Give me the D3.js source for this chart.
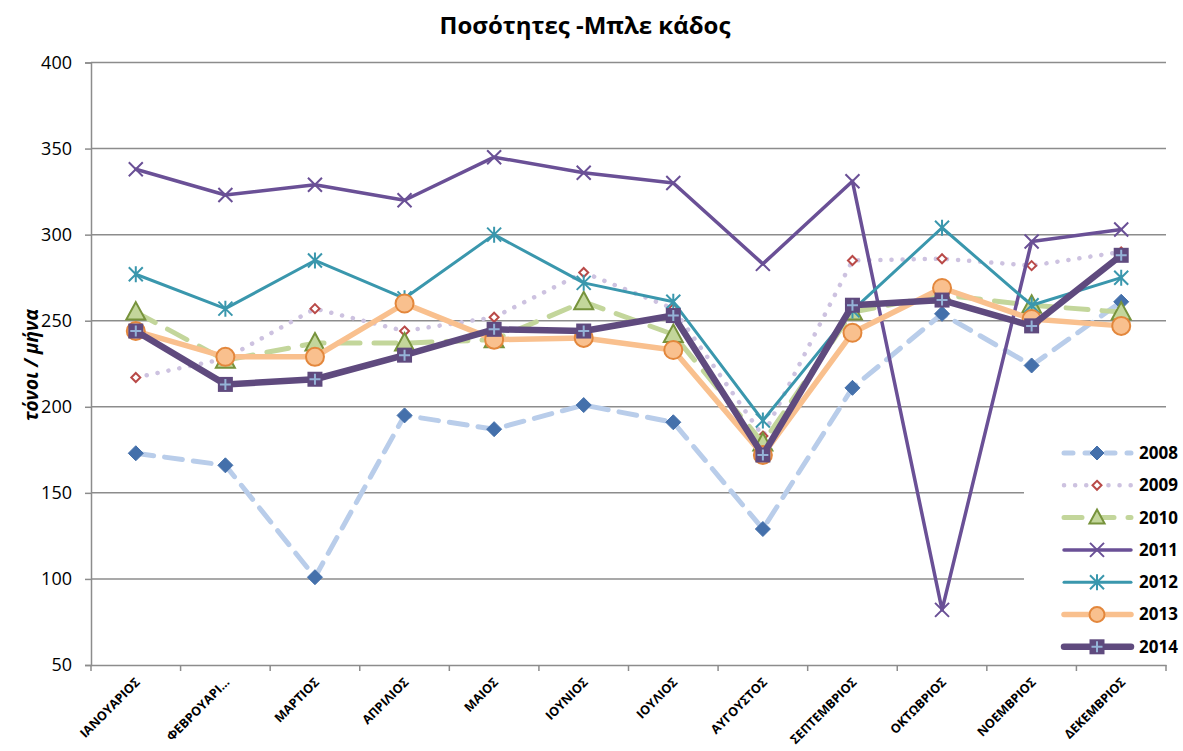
<!DOCTYPE html>
<html>
<head>
<meta charset="utf-8">
<script src="https://cdn.jsdelivr.net/npm/d3@7"></script>
<style>
  body { margin: 0; background: #fff; }
  svg { font-family: "Open Sans", "Liberation Sans", sans-serif; }
</style>
</head>
<body>
<div id="chart"></div>
<script>
// Data
var months = ['ΙΑΝΟΥΑΡΙΟΣ', 'ΦΕΒΡΟΥΑΡΙ...', 'ΜΑΡΤΙΟΣ', 'ΑΠΡΙΛΙΟΣ', 'ΜΑΙΟΣ', 'ΙΟΥΝΙΟΣ',
  'ΙΟΥΛΙΟΣ', 'ΑΥΓΟΥΣΤΟΣ', 'ΣΕΠΤΕΜΒΡΙΟΣ', 'ΟΚΤΩΒΡΙΟΣ', 'ΝΟΕΜΒΡΙΟΣ', 'ΔΕΚΕΜΒΡΙΟΣ'];
var years = ['2008', '2009', '2010', '2011', '2012', '2013', '2014'];
var v2008 = [173, 166, 101, 195, 187, 201, 191, 129, 211, 254, 224, 261];
var v2009 = [217, 228, 257, 244, 252, 278, 257, 183, 285, 286, 282, 290];
var v2010 = [255, 227, 237, 237, 239, 261, 242, 179, 255, 265, 259, 255];
var v2011 = [338, 323, 329, 320, 345, 336, 330, 283, 331, 82, 296, 303];
var v2012 = [277, 257, 285, 263, 300, 272, 261, 192, 256, 304, 259, 275];
var v2013 = [244, 229, 229, 260, 239, 240, 233, 172, 243, 269, 251, 247];
var v2014 = [244, 213, 216, 230, 245, 244, 253, 172, 259, 262, 247, 288];
var yTicks = [50, 100, 150, 200, 250, 300, 350, 400];

var seriesValues = [v2008, v2009, v2010, v2011, v2012, v2013, v2014];

// Styles per series
var styles = [
  { line: '#b9cdea', width: 5, dash: '18,11', marker: 'diamond', fill: '#4470ab', stroke: '#4470ab', size: 7.5 },
  { line: '#cdc2e0', width: 4.5, dash: '0.1,11', marker: 'diamond', fill: '#fff', stroke: '#b94a48', size: 4.5 },
  { line: '#c3d69b', width: 5, dash: '22,14', marker: 'triangle', fill: '#c3d69b', stroke: '#77933c', size: 10 },
  { line: '#6a5096', width: 3.5, dash: null, marker: 'x', fill: 'none', stroke: '#6a5096', size: 7 },
  { line: '#3a97ad', width: 3, dash: null, marker: 'star', fill: 'none', stroke: '#3a97ad', size: 7 },
  { line: '#f9c08e', width: 5.5, dash: null, marker: 'circle', fill: '#f9c08e', stroke: '#e3873c', size: 9 },
  { line: '#5f4a7e', width: 6.5, dash: null, marker: 'square', fill: '#5f4a7e', stroke: '#5f4a7e', size: 7.5 }
];

var width = 1183;
var height = 751;

var svg = d3.select('#chart')
  .append('svg')
  .attr('width', width)
  .attr('height', height);

// Scales
var xScale = d3.scaleBand()
  .domain(months)
  .range([91, 1166]);

var yScale = d3.scaleLinear()
  .domain([50, 400])
  .range([665, 62.5]);

var cx = (m) => xScale(m) + xScale.bandwidth() / 2;

// Title
svg.append('text')
  .attr('x', 585)
  .attr('y', 34)
  .attr('text-anchor', 'middle')
  .style('font-size', '24px')
  .style('font-weight', 'bold')
  .text('Ποσότητες -Μπλε κάδος');

// Y axis label
svg.append('text')
  .attr('transform', 'translate(38, 365) rotate(-90)')
  .attr('text-anchor', 'middle')
  .style('font-size', '19px')
  .style('font-weight', 'bold')
  .style('font-style', 'italic')
  .text('τόνοι / μήνα');

// Gridlines
svg.append('g')
  .selectAll('line')
  .data(yTicks.slice(1))
  .enter().append('line')
  .attr('x1', 91)
  .attr('x2', 1166)
  .attr('y1', (d) => yScale(d))
  .attr('y2', (d) => yScale(d))
  .attr('stroke', '#8c8c8c')
  .attr('stroke-width', 1.5);

// Y axis
var yAxis = d3.axisLeft(yScale).tickValues(yTicks).tickSize(6).tickPadding(13);
var gy = svg.append('g')
  .attr('transform', 'translate(91, 0)')
  .call(yAxis);
gy.select('.domain').attr('stroke', '#8c8c8c').attr('stroke-width', 1.5);
gy.selectAll('.tick line').attr('stroke', '#8c8c8c').attr('stroke-width', 1.5);
gy.selectAll('.tick text')
  .style('font-size', '18px')
  .style('font-family', '"Open Sans", sans-serif')
  .attr('fill', '#000');

// X axis
var xAxis = d3.axisBottom(xScale).tickSize(0).tickFormat('');
var gx = svg.append('g')
  .attr('transform', 'translate(0, 665)')
  .call(xAxis);
gx.select('.domain').attr('stroke', '#8c8c8c').attr('stroke-width', 1.5);

// X tick marks on band boundaries
svg.append('g')
  .selectAll('line')
  .data(months.concat(['end']))
  .enter().append('line')
  .attr('x1', (d, i) => i < months.length ? xScale(d) : 1166)
  .attr('x2', (d, i) => i < months.length ? xScale(d) : 1166)
  .attr('y1', 665)
  .attr('y2', 671)
  .attr('stroke', '#8c8c8c')
  .attr('stroke-width', 1.5);

// X labels
svg.append('g')
  .selectAll('text')
  .data(months)
  .enter().append('text')
  .attr('transform', (d) => `translate(${cx(d) + 5}, ${683}) rotate(-45)`)
  .attr('text-anchor', 'end')
  .style('font-size', '12.5px')
  .style('font-weight', 'bold')
  .text((d) => d);

// Marker drawing
function drawMarker(g, type, s) {
  var r = s.size;
  if (type === 'diamond') {
    g.append('path')
      .attr('d', `M0,${-r}L${r},0L0,${r}L${-r},0Z`)
      .attr('fill', s.fill)
      .attr('stroke', s.stroke)
      .attr('stroke-width', s.fill === '#fff' ? 2 : 1);
  } else if (type === 'triangle') {
    g.append('path')
      .attr('d', `M0,${-r}L${r * 0.95},${r * 0.75}L${-r * 0.95},${r * 0.75}Z`)
      .attr('fill', s.fill)
      .attr('stroke', s.stroke)
      .attr('stroke-width', 2);
  } else if (type === 'x') {
    g.append('path')
      .attr('d', `M${-r},${-r}L${r},${r}M${r},${-r}L${-r},${r}`)
      .attr('stroke', s.stroke)
      .attr('stroke-width', 2);
  } else if (type === 'star') {
    g.append('path')
      .attr('d', `M${-r},${-r}L${r},${r}M${r},${-r}L${-r},${r}M0,${-r - 1}L0,${r + 1}`)
      .attr('stroke', s.stroke)
      .attr('stroke-width', 2);
  } else if (type === 'circle') {
    g.append('circle')
      .attr('r', r)
      .attr('fill', s.fill)
      .attr('stroke', s.stroke)
      .attr('stroke-width', 2);
  } else if (type === 'square') {
    g.append('rect')
      .attr('x', -r).attr('y', -r)
      .attr('width', 2 * r).attr('height', 2 * r)
      .attr('fill', s.fill);
    g.append('path')
      .attr('d', `M${-r + 2},0L${r - 2},0M0,${-r + 2}L0,${r - 2}`)
      .attr('stroke', '#95b3d7')
      .attr('stroke-width', 2);
  }
}

var line = d3.line()
  .x((d, i) => cx(months[i]))
  .y((d) => yScale(d));

// Legend background (covers gridlines)
var legendX = 1024;
var legendY = 433;
svg.append('rect')
  .attr('x', legendX)
  .attr('y', legendY)
  .attr('width', 1166 - legendX)
  .attr('height', 664 - legendY)
  .attr('fill', '#fff');

// Series
seriesValues.forEach((vals, k) => {
  var s = styles[k];
  var g = svg.append('g').attr('class', 'series');
  g.append('path')
    .datum(vals)
    .attr('d', line)
    .attr('fill', 'none')
    .attr('stroke', s.line)
    .attr('stroke-width', s.width)
    .attr('stroke-linecap', 'round')
    .attr('stroke-linejoin', 'round')
    .attr('stroke-dasharray', s.dash);
  vals.forEach((v, i) => {
    var mg = g.append('g').attr('transform', `translate(${cx(months[i])}, ${yScale(v)})`);
    drawMarker(mg, s.marker, s);
  });
});

// Legend
var legend = svg.selectAll('.legend')
  .data(years)
  .enter().append('g')
  .attr('class', 'legend')
  .attr('transform', (d, i) => `translate(0, ${453 + i * 32.3})`);

legend.append('line')
  .attr('x1', 1064)
  .attr('x2', 1131)
  .attr('y1', 0)
  .attr('y2', 0)
  .attr('stroke', (d, i) => styles[i].line)
  .attr('stroke-width', (d, i) => styles[i].width)
  .attr('stroke-linecap', 'round')
  .attr('stroke-dasharray', (d, i) => i === 0 ? '9,12' : i === 1 ? '0.1,11' : i === 2 ? '18,14' : null);

legend.each(function (d, i) {
  var s = Object.assign({}, styles[i]);
  if (s.marker === 'circle') s.size = 7.5;
  if (s.marker === 'triangle') s.size = 8;
  if (s.marker === 'diamond' && i === 0) s.size = 7;
  var mg = d3.select(this).append('g').attr('transform', 'translate(1097, 0)');
  drawMarker(mg, s.marker, s);
});

legend.append('text')
  .attr('x', 1139)
  .attr('y', 0)
  .attr('dy', '0.35em')
  .style('font-size', '17px')
  .style('font-weight', 'bold')
  .text((d) => d);
</script>
</body>
</html>
